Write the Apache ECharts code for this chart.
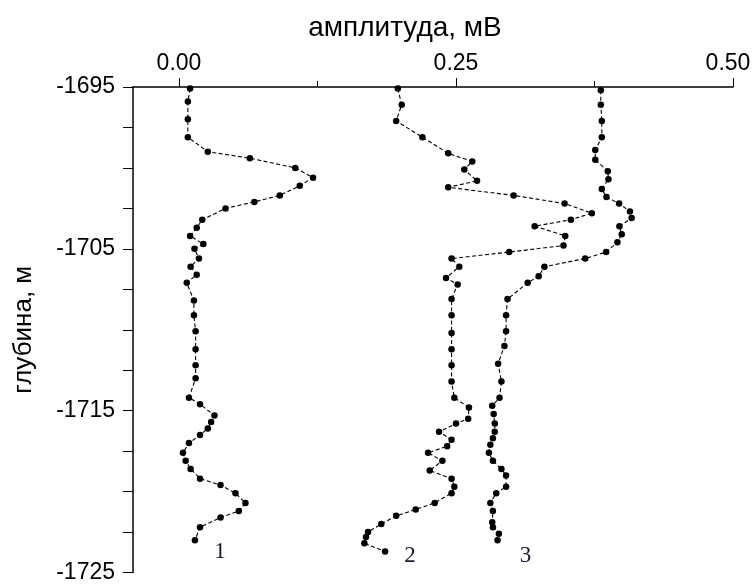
<!DOCTYPE html>
<html>
<head>
<meta charset="utf-8">
<script src="https://cdn.jsdelivr.net/npm/echarts@6/dist/echarts.min.js"></script>
<style>
html,body{margin:0;padding:0;background:#fff;}
#chart{width:754px;height:584px;}
</style>
</head>
<body>
<div id="chart"></div>
<script>
// ---- data (depth in m, amplitude in mV) ----
const depth1 = [-1695.1,-1695.9,-1697.0,-1698.1,-1699.0,-1699.4,-1700.0,-1700.6,-1701.1,-1701.7,-1702.1,-1702.5,-1703.2,-1703.7,-1704.2,-1704.7,-1705.0,-1705.6,-1706.1,-1706.6,-1707.1,-1708.2,-1709.1,-1710.1,-1711.2,-1712.2,-1713.0,-1714.2,-1714.6,-1715.3,-1715.7,-1716.1,-1716.5,-1717.0,-1717.6,-1718.1,-1718.6,-1719.2,-1719.6,-1720.1,-1720.7,-1721.2,-1721.6,-1722.2,-1723.0];
const amp1 = [0.010,0.008,0.008,0.008,0.026,0.064,0.105,0.121,0.109,0.091,0.068,0.042,0.021,0.016,0.010,0.022,0.014,0.018,0.0105,0.016,0.007,0.0135,0.0135,0.015,0.015,0.015,0.015,0.009,0.019,0.032,0.029,0.026,0.019,0.009,0.0036,0.006,0.0105,0.019,0.0375,0.051,0.060,0.054,0.0375,0.019,0.0144];

const depth2 = [-1695.1,-1696.1,-1697.1,-1698.1,-1699.1,-1699.6,-1700.1,-1700.8,-1701.2,-1701.7,-1702.2,-1702.8,-1703.2,-1703.6,-1704.2,-1704.8,-1705.2,-1705.6,-1706.1,-1706.8,-1707.2,-1708.1,-1709.1,-1710.2,-1711.2,-1712.2,-1713.2,-1714.2,-1714.8,-1715.5,-1715.8,-1716.3,-1716.8,-1717.2,-1717.6,-1718.1,-1718.7,-1719.2,-1719.7,-1720.1,-1720.7,-1721.1,-1721.5,-1722.0,-1722.5,-1722.8,-1723.2,-1723.7];
const amp2 = [0.1975,0.201,0.196,0.2197,0.243,0.2647,0.2575,0.269,0.243,0.302,0.348,0.3726,0.3537,0.321,0.3486,0.347,0.298,0.246,0.253,0.241,0.2515,0.246,0.246,0.246,0.246,0.246,0.246,0.2485,0.2617,0.261,0.250,0.2347,0.246,0.242,0.2248,0.2377,0.2263,0.246,0.2485,0.246,0.2308,0.2137,0.196,0.1826,0.1706,0.1688,0.1673,0.186];

const depth3 = [-1695.2,-1696.1,-1697.1,-1698.1,-1698.9,-1699.5,-1700.2,-1700.7,-1701.3,-1701.8,-1702.2,-1702.7,-1703.1,-1703.6,-1704.1,-1704.6,-1705.2,-1705.6,-1706.1,-1706.7,-1707.1,-1708.1,-1709.1,-1710.1,-1711.0,-1712.1,-1713.2,-1714.2,-1714.7,-1715.2,-1715.8,-1716.3,-1716.7,-1717.1,-1717.6,-1718.1,-1718.6,-1719.0,-1719.7,-1720.1,-1720.7,-1721.2,-1721.9,-1722.2,-1722.6,-1723.0];
const amp3 = [0.3807,0.3807,0.3816,0.3816,0.3757,0.3757,0.387,0.3876,0.3816,0.3858,0.3972,0.407,0.4085,0.3975,0.3996,0.3957,0.3855,0.3666,0.3298,0.3246,0.3147,0.2965,0.2952,0.2952,0.2937,0.288,0.291,0.2893,0.2827,0.284,0.285,0.285,0.2833,0.281,0.2797,0.2833,0.291,0.2952,0.2952,0.2863,0.281,0.2833,0.2827,0.2833,0.2887,0.2875];

const curveNames = ['1', '2', '3'];
const xLabelValues = [0, 0.25, 0.5];
const xMinorTickValues = [0.125, 0.375];
const yLabelValues = [-1725, -1715, -1705, -1695];
const yTickValues = [-1725,-1722.5,-1720,-1717.5,-1715,-1712.5,-1710,-1707.5,-1705,-1702.5,-1700,-1697.5,-1695];
const xTitle = 'амплитуда, мВ';
const yTitle = 'глубина, м';

// ---- build ----
const FONT = "'Liberation Sans', Arial, sans-serif";
const labelOffsets = [[11, 12], [11, 4], [14, 16]];
function build(depth, amp, idx) {
  return depth.map((d, i) => {
    const item = { value: [amp[i], d] };
    if (i === depth.length - 1) {
      item.label = {
        show: true,
        formatter: curveNames[idx],
        position: 'right',
        offset: labelOffsets[idx],
        fontFamily: "'Liberation Serif', 'Times New Roman', serif",
        fontSize: 23,
        color: '#1a1a2a'
      };
    }
    return item;
  });
}
const sets = [[depth1, amp1], [depth2, amp2], [depth3, amp3]];
const series = sets.map((s, k) => ({
  type: 'line',
  name: curveNames[k],
  data: build(s[0], s[1], k),
  xAxisIndex: 0,
  yAxisIndex: 0,
  symbol: 'circle',
  symbolSize: 6.5,
  showSymbol: true,
  animation: false,
  itemStyle: { color: '#000' },
  lineStyle: { color: '#000', width: 1.1, type: [4, 2.5] },
  emphasis: { disabled: true }
}));

const X_MIN = -0.0415, X_MAX = 0.5;
const chart = echarts.init(document.getElementById('chart'), null, { renderer: 'canvas' });
chart.setOption({
  backgroundColor: '#fff',
  animation: false,
  grid: { left: 133, right: 21, top: 87, bottom: 8, containLabel: false },
  xAxis: [{
    type: 'value', position: 'top', min: X_MIN, max: X_MAX,
    name: xTitle, nameLocation: 'middle', nameGap: 45,
    nameTextStyle: { fontFamily: FONT, fontSize: 28, color: '#000', padding: [0, 56, 0, 0] },
    axisLine: { show: true, onZero: false, lineStyle: { color: '#000', width: 1.5 } },
    axisTick: { show: true, inside: false, length: 9, customValues: xLabelValues, lineStyle: { color: '#000', width: 1 } },
    axisLabel: {
      show: true, customValues: xLabelValues, margin: 12,
      fontFamily: FONT, fontSize: 23, color: '#000',
      formatter: v => (v === 0.5 ? '{r|' + v.toFixed(2) + '}' : v.toFixed(2)),
      rich: { r: { fontFamily: FONT, fontSize: 23, color: '#000', padding: [0, 10, 0, 0] } }
    },
    splitLine: { show: false }
  }, {
    type: 'value', position: 'top', min: X_MIN, max: X_MAX,
    axisLine: { show: false },
    axisTick: { show: true, length: 6, customValues: xMinorTickValues, lineStyle: { color: '#000', width: 1 } },
    axisLabel: { show: false },
    splitLine: { show: false }
  }],
  yAxis: [{
    type: 'value', min: -1725, max: -1695,
    name: yTitle, nameLocation: 'middle', nameRotate: 90, nameGap: 96,
    nameTextStyle: { fontFamily: FONT, fontSize: 26, color: '#000' },
    axisLine: { show: true, onZero: false, lineStyle: { color: '#000', width: 1.5 } },
    axisTick: { show: true, length: 10, customValues: yTickValues, lineStyle: { color: '#000', width: 1 } },
    axisLabel: {
      show: true, customValues: yLabelValues, margin: 18,
      fontFamily: FONT, fontSize: 23, color: '#000',
      formatter: v => String(v)
    },
    splitLine: { show: false }
  }],
  series: series
});
</script>
</body>
</html>
